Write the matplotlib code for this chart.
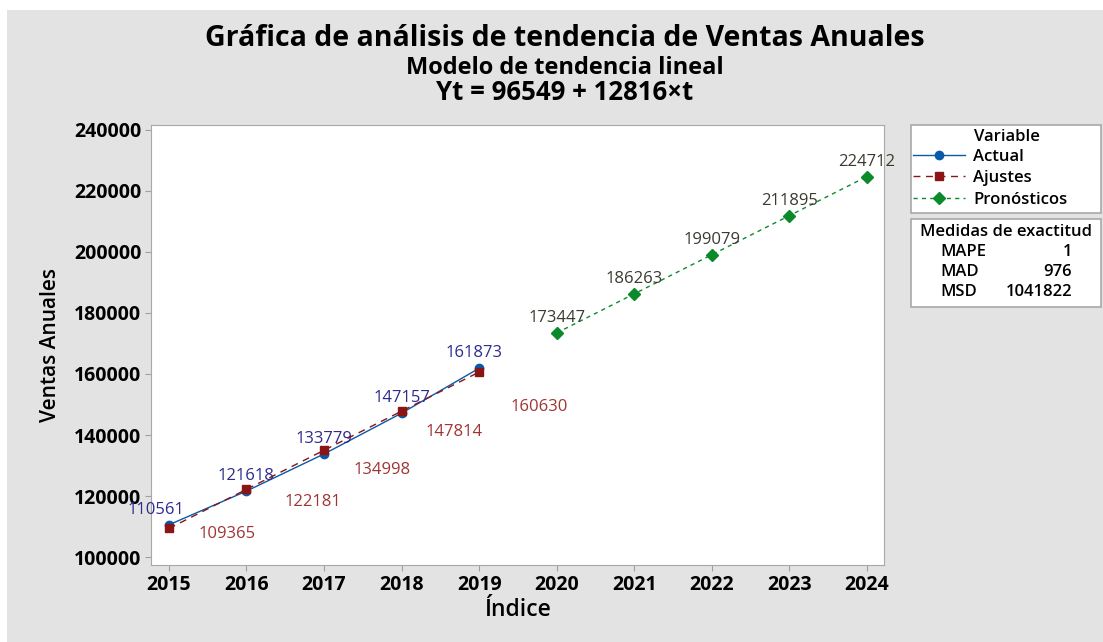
import matplotlib
matplotlib.use("Agg")
import matplotlib.pyplot as plt
from matplotlib.lines import Line2D
from matplotlib.patches import Rectangle

plt.rcParams["font.family"] = ["Open Sans", "DejaVu Sans"]

# Data
years_actual = [2015, 2016, 2017, 2018, 2019]
actual = [110561, 121618, 133779, 147157, 161873]
fits = [109365, 122181, 134998, 147814, 160630]
years_forecast = [2020, 2021, 2022, 2023, 2024]
forecast = [173447, 186263, 199079, 211895, 224712]
x_ticks = list(range(2015, 2025))
y_ticks = [100000, 120000, 140000, 160000, 180000, 200000, 220000, 240000]
accuracy_names = ["MAPE", "MAD", "MSD"]
accuracy_values = ["1", "976", "1041822"]

# label offsets (points) - layout only
actual_off = [(-9, 5), (0, 5), (0, 5), (0, 5), (-4, 5)]
fit_off = [(42, -4), (48, -9), (42, -14), (38, -15), (43, -25)]

W, H = 1103, 642
fig = plt.figure(figsize=(W / 100, H / 100), dpi=100, facecolor="white")
fig.patches.append(Rectangle((7 / W, 0), 1, (H - 10) / H, transform=fig.transFigure,
                             facecolor="#e3e3e3", edgecolor="none", zorder=-10))

ax = fig.add_axes([151 / W, (H - 565) / H, (884 - 151) / W, (565 - 125) / H])
ax.set_facecolor("white")

c_act, c_fit, c_fc = "#0a5aa8", "#8b1515", "#0a8a2a"
ax.plot(years_actual, actual, "-", color=c_act, lw=1.0, marker="o", ms=6, zorder=3)
ax.plot(years_actual, fits, "--", color=c_fit, lw=1.0, marker="s", ms=6,
        dashes=(5, 4), zorder=4)
ax.plot(years_forecast, forecast, "--", color=c_fc, lw=1.0, marker="D", ms=6,
        dashes=(3, 3), zorder=3)

lab_fs = 12
for x, y, off in zip(years_actual, actual, actual_off):
    ax.annotate(f"{y}", (x, y), xytext=off, textcoords="offset points",
                ha="center", va="bottom", fontsize=lab_fs, color="#2e2a8e")
for x, y, off in zip(years_actual, fits, fit_off):
    ax.annotate(f"{y}", (x, y), xytext=off, textcoords="offset points",
                ha="center", va="center", fontsize=lab_fs, color="#a03434")
for x, y in zip(years_forecast, forecast):
    ax.annotate(f"{y}", (x, y), xytext=(0, 5), textcoords="offset points",
                ha="center", va="bottom", fontsize=lab_fs, color="#3a3a30",
                annotation_clip=False)

ax.set_xlim(2014.77, 2024.22)
ax.set_ylim(97400, 241600)
ax.set_xticks(x_ticks)
ax.set_yticks(y_ticks)
ax.set_xticklabels([str(t) for t in x_ticks], fontsize=14, fontweight="bold")
ax.set_yticklabels([str(t) for t in y_ticks], fontsize=14, fontweight="bold")
ax.tick_params(length=4, color="#a0a0a0", pad=3)
for s in ax.spines.values():
    s.set_color("#a8a8a8")
ax.set_xlabel("Índice", fontsize=16.5, fontweight="semibold", labelpad=2)
ax.set_ylabel("Ventas Anuales", fontsize=15, fontweight="semibold", labelpad=9)

fig.text(565 / W, 1 - 38 / H, "Gráfica de análisis de tendencia de Ventas Anuales",
         ha="center", va="center", fontsize=20.5, fontweight="bold")
fig.text(565 / W, 1 - 68 / H, "Modelo de tendencia lineal",
         ha="center", va="center", fontsize=17, fontweight="bold")
fig.text(565 / W, 1 - 93 / H, "Yt = 96549 + 12816×t",
         ha="center", va="center", fontsize=18.5, fontweight="bold")

# legend boxes
for top, bot in [(125, 213), (219, 307)]:
    fig.patches.append(Rectangle((911 / W, 1 - bot / H), (1101 - 911) / W, (bot - top) / H,
                                 transform=fig.transFigure, facecolor="white",
                                 edgecolor="#a8a8a8", lw=1.2, zorder=1))

fig.text(1007 / W, 1 - 137 / H, "Variable", ha="center", va="center",
         fontsize=12, fontweight="semibold", zorder=5)
handles = [
    Line2D([], [], color=c_act, lw=1.0, marker="o", ms=6),
    Line2D([], [], color=c_fit, lw=1.0, ls="--", dashes=(5, 4), marker="s", ms=6),
    Line2D([], [], color=c_fc, lw=1.0, ls="--", dashes=(3, 3), marker="D", ms=6),
]
leg = fig.legend(handles, ["Actual", "Ajustes", "Pronósticos"],
                 loc="upper left", bbox_to_anchor=(913 / W, 1 - 149 / H),
                 frameon=False, fontsize=12,
                 handlelength=3.1, handletextpad=0.5, labelspacing=0.32,
                 borderaxespad=0, borderpad=0.0)
for t in leg.get_texts():
    t.set_fontweight("semibold")

fig.text(1006 / W, 1 - 232 / H, "Medidas de exactitud", ha="center", va="center",
         fontsize=12, fontweight="semibold", zorder=5)
for i, (n, v) in enumerate(zip(accuracy_names, accuracy_values)):
    yy = 1 - (252 + 20 * i) / H
    fig.text(940 / W, yy, n, ha="left", va="center", fontsize=12,
             fontweight="semibold", zorder=5)
    fig.text(1072 / W, yy, v, ha="right", va="center", fontsize=12,
             fontweight="semibold", zorder=5)

fig.savefig("out.png", dpi=100)
